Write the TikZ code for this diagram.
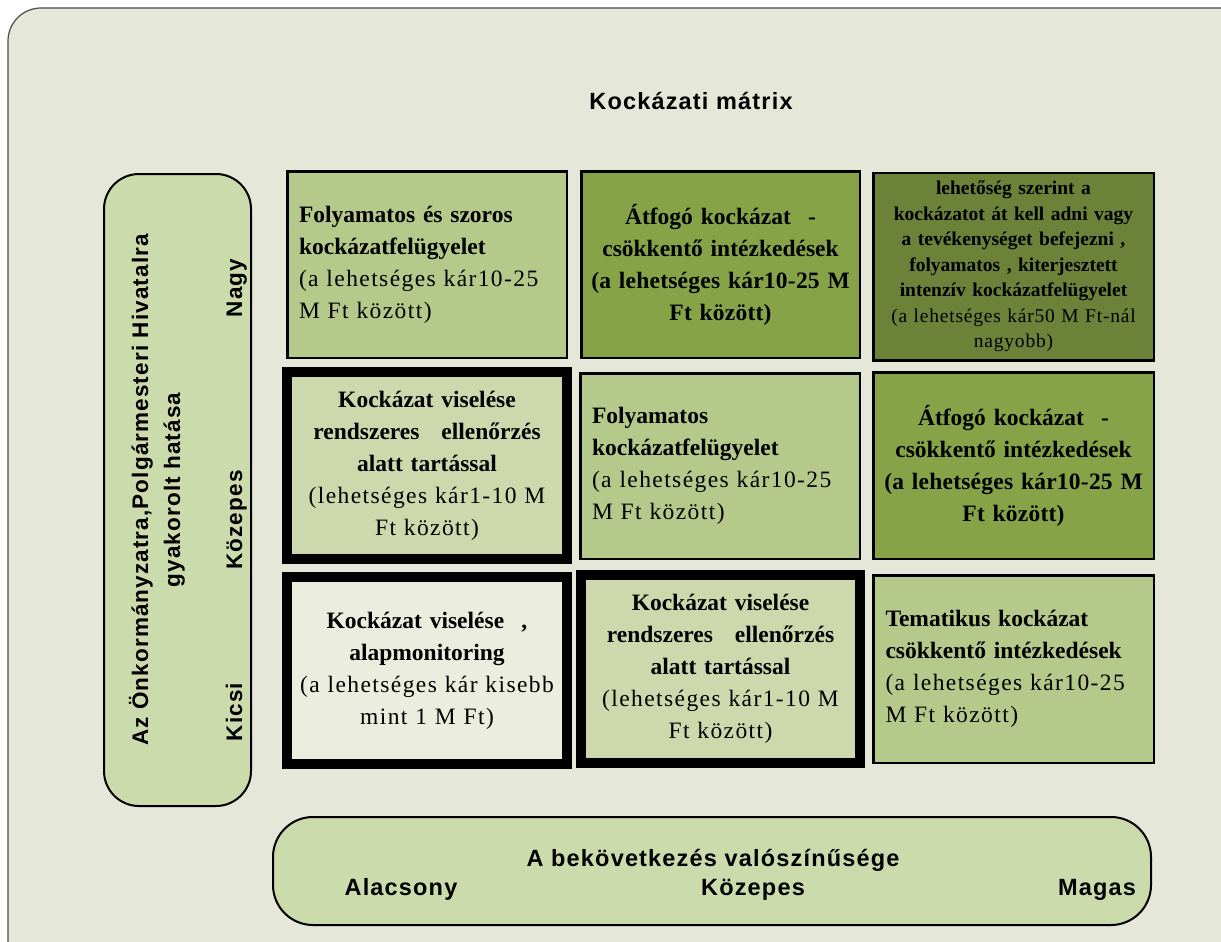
\documentclass[tikz,border=0pt]{standalone}
\usepackage{fontspec}
\setmainfont{Liberation Serif}
\newfontfamily\rsp{Liberation Serif}[LetterSpace=6]
\newfontfamily\rspc{Liberation Serif}[LetterSpace=4]
\newfontfamily\rspb{Liberation Serif}[LetterSpace=1]
\newfontfamily\sansb{Liberation Sans}[LetterSpace=5]
\definecolor{framebg}{HTML}{E5E7D9}
\definecolor{gA}{HTML}{B5C98A}
\definecolor{gB}{HTML}{86A447}
\definecolor{gC}{HTML}{6B8238}
\definecolor{gD}{HTML}{CDD9AC}
\definecolor{gE}{HTML}{EBEEDF}
\definecolor{axisbg}{HTML}{CCDBAB}
\begin{document}
\begin{tikzpicture}[x=1pt,y=-1pt,
  thincell/.style={rectangle, draw=black, line width=2.5pt, inner sep=0pt},
  thickcell/.style={rectangle, draw=black, line width=10pt, inner sep=0pt},
  bigtxt/.style={font=\fontsize{23.5}{32}\selectfont},
  smalltxt/.style={font=\fontsize{19.5}{25.5}\selectfont},
  axisbox/.style={rectangle, draw=black, line width=2pt, fill=axisbg, inner sep=0pt},
  lbl/.style={font=\sansb\bfseries\fontsize{23.5}{28}\selectfont, inner sep=0pt, anchor=base},
  sidelbl/.style={font=\sansb\bfseries\fontsize{22.5}{32}\selectfont, inner sep=0pt, rotate=90},
  sidebase/.style={sidelbl, anchor=base}
]
\useasboundingbox (0,0) rectangle (1221,942);
\clip (0,0) rectangle (1221,942);
\fill[white] (0,0) rectangle (1221,942);
\draw[fill=framebg, draw=black!70, line width=1.2pt, rounded corners=33pt] (8,8) rectangle (1270,1000);

\node[lbl] (title) at (691,110) {Kockázati mátrix};

% row 1
\node[thincell, fill=gA, minimum width=279.5pt, minimum height=186.5pt, bigtxt, text width=256pt, align=left] (c11) at (427,264.5)
 {\textbf{Folyamatos és szoros}\\ \textbf{kockázatfelügyelet}\\ {\rsp (a lehetséges kár10-25}\\ {\rsp M Ft között)}};
\node[thincell, fill=gB, minimum width=278.5pt, minimum height=186.5pt, bigtxt, text width=270pt, align=center] (c12) at (720.5,264.5)
 {\textbf{Átfogó kockázat\hspace{0.4em} -}\\ \textbf{csökkentő intézkedések\hspace{0.5em}}\\ {\rspb\bfseries (a lehetséges kár10-25 M}\\ {\rspb\bfseries Ft között)}};
\node[thincell, fill=gC, minimum width=280.5pt, minimum height=187.5pt, smalltxt, text width=270pt, align=center] (c13) at (1013.5,266.5)
 {\textbf{lehetőség szerint a}\\ \textbf{kockázatot át kell adni vagy}\\ \textbf{a tevékenységet befejezni ,}\\ \textbf{folyamatos , kiterjesztett}\\ \textbf{intenzív kockázatfelügyelet}\\ {\rspc (a lehetséges kár50 M Ft-nál}\\ {\rspc nagyobb)}};

% row 2
\node[thickcell, fill=gD, minimum width=280pt, minimum height=187pt, bigtxt, text width=262pt, align=center] (c21) at (427,465.5)
 {\textbf{Kockázat viselése}\\ \textbf{rendszeres\hspace{0.6em} ellenőrzés}\\ \textbf{alatt tartással}\\ {\rsp (lehetséges kár1-10 M}\\ {\rsp Ft között)}};
\node[thincell, fill=gA, minimum width=279.5pt, minimum height=185.5pt, bigtxt, text width=256pt, align=left] (c22) at (720,466)
 {\textbf{Folyamatos}\\ \textbf{kockázatfelügyelet}\\ {\rsp (a lehetséges kár10-25}\\ {\rsp M Ft között)}};
\node[thincell, fill=gB, minimum width=280.5pt, minimum height=186.5pt, bigtxt, text width=270pt, align=center] (c23) at (1013.5,465.5)
 {\textbf{Átfogó kockázat\hspace{0.4em} -}\\ \textbf{csökkentő intézkedések\hspace{0.5em}}\\ {\rspb\bfseries (a lehetséges kár10-25 M}\\ {\rspb\bfseries Ft között)}};

% row 3
\node[thickcell, fill=gE, minimum width=280pt, minimum height=187pt, bigtxt, text width=262pt, align=center] (c31) at (427,670.5)
 {\textbf{Kockázat viselése\hspace{0.4em} ,}\\ \textbf{alapmonitoring}\\ {\rsp (a lehetséges kár kisebb}\\ {\rsp mint 1 M Ft)}};
\node[thickcell, fill=gD, minimum width=279pt, minimum height=188pt, bigtxt, text width=262pt, align=center] (c32) at (720.5,669)
 {\textbf{Kockázat viselése}\\ \textbf{rendszeres\hspace{0.6em} ellenőrzés}\\ \textbf{alatt tartással}\\ {\rsp (lehetséges kár1-10 M}\\ {\rsp Ft között)}};
\node[thincell, fill=gA, minimum width=280.5pt, minimum height=187.5pt, bigtxt, text width=256pt, align=left] (c33) at (1013.5,669)
 {\textbf{Tematikus kockázat}\\ \textbf{csökkentő intézkedések}\\ {\rsp (a lehetséges kár10-25}\\ {\rsp M Ft között)}};

% left axis box
\node[axisbox, rounded corners=35pt, minimum width=147pt, minimum height=632pt] (yaxis) at (177.5,490) {};
\node[sidelbl, align=center] (ytitle) at (157,490) {Az Önkormányzatra,Polgármesteri Hivatalra\\ gyakorolt hatása};
\node[sidebase] (ynagy) at (242,288) {Nagy};
\node[sidebase] (ykoz) at (242,520) {Közepes};
\node[sidebase] (ykicsi) at (242,712) {Kicsi};

% bottom axis box
\node[axisbox, rounded corners=40pt, minimum width=878pt, minimum height=108pt] (xaxis) at (712,871) {};
\node[lbl] (xtitle) at (713,866) {A bekövetkezés valószínűsége};
\node[lbl] (xlow) at (401,895) {Alacsony};
\node[lbl] (xmid) at (753,895) {Közepes};
\node[lbl] (xhigh) at (1097,895) {Magas};
\end{tikzpicture}
\end{document}
